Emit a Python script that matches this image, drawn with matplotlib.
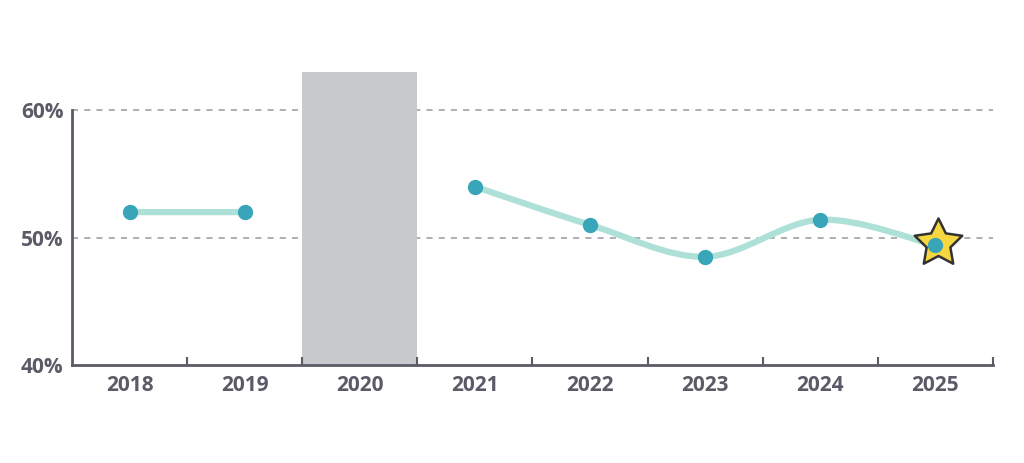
import numpy as np
import matplotlib.pyplot as plt
from matplotlib.path import Path
from matplotlib.patches import PathPatch

years = ["2018", "2019", "2020", "2021", "2022", "2023", "2024", "2025"]
# 2020 is missing (grey band)
seg1_idx = [0, 1]
seg1_val = [52.0, 52.0]
seg2_idx = [3, 4, 5, 6, 7]
seg2_val = [54.0, 51.0, 48.5, 51.4, 49.4]
gap_idx = 2
yticks = [40, 50, 60]

axis_col = "#5a5b66"
line_col = "#ade0d6"
dot_col = "#38a6b8"
star_col = "#f6d73f"

plt.rcParams['font.family'] = ['Open Sans', 'DejaVu Sans']

fig = plt.figure(figsize=(10.24, 4.63), dpi=100)
ax = fig.add_axes([0.0703, 0.2117, 0.8994, 0.6328])
ax.set_xlim(-0.5, 7.5)
ax.set_ylim(40, 63)


def smooth_path(xs, ys, t=0.5):
    # catmull-rom style bezier through the points
    xs = np.asarray(xs, float)
    ys = np.asarray(ys, float)
    verts = [(xs[0], ys[0])]
    codes = [Path.MOVETO]
    n = len(xs)
    for i in range(n - 1):
        p0 = np.array([xs[max(i - 1, 0)], ys[max(i - 1, 0)]])
        p1 = np.array([xs[i], ys[i]])
        p2 = np.array([xs[i + 1], ys[i + 1]])
        p3 = np.array([xs[min(i + 2, n - 1)], ys[min(i + 2, n - 1)]])
        c1 = p1 + (p2 - p0) * t / 3
        c2 = p2 - (p3 - p1) * t / 3
        verts += [tuple(c1), tuple(c2), tuple(p2)]
        codes += [Path.CURVE4] * 3
    return Path(verts, codes)


# fatter star marker
ang = np.pi / 2 + np.arange(10) * np.pi / 5
rad = np.where(np.arange(10) % 2 == 0, 1.0, 0.5)
star_verts = np.column_stack([rad * np.cos(ang), rad * np.sin(ang)])
star = Path(np.vstack([star_verts, star_verts[:1]]),
            [Path.MOVETO] + [Path.LINETO] * 9 + [Path.CLOSEPOLY])

# grey band for 2020
ax.axvspan(gap_idx - 0.5, gap_idx + 0.5, color="#c8c9cd", zorder=1, lw=0)

# grid
for y in [50, 60]:
    ax.axhline(y, color="#9a9a9f", lw=1.1, ls=(0, (4, 4)), zorder=0.5)

for xs, ys in [(seg1_idx, seg1_val), (seg2_idx, seg2_val)]:
    ax.add_patch(PathPatch(smooth_path(xs, ys), fill=False, ec=line_col,
                           lw=4.5, capstyle='round', zorder=3))

# star behind last point
ax.plot(seg2_idx[-1] + 0.02, seg2_val[-1] + 0.2, marker=star, ms=36,
        mfc=star_col, mec="#333333", mew=1.8, zorder=4)

ax.plot(seg1_idx, seg1_val, 'o', color=dot_col, ms=10, zorder=5)
ax.plot(seg2_idx, seg2_val, 'o', color=dot_col, ms=10, zorder=5)

# axes styling
for s in ['top', 'right']:
    ax.spines[s].set_visible(False)
ax.spines['left'].set_bounds(40, 60)
ax.spines['bottom'].set_bounds(-0.5, 7.5)
for s in ['left', 'bottom']:
    ax.spines[s].set_color(axis_col)
    ax.spines[s].set_linewidth(2)

ax.set_xticks(range(len(years)))
ax.set_xticklabels(years)
ax.set_xticks(np.arange(0.5, 8, 1), minor=True)
ax.tick_params(axis='x', which='major', length=0, pad=7)
ax.tick_params(axis='x', which='minor', direction='in', length=6,
               width=1.5, color=axis_col)
ax.set_yticks(yticks)
ax.set_yticklabels([f"{v}%" for v in yticks])
ax.tick_params(axis='y', length=0, pad=6)
for lab in ax.get_xticklabels() + ax.get_yticklabels():
    lab.set_fontsize(15)
    lab.set_fontweight('bold')
    lab.set_color(axis_col)

fig.savefig("out.png", dpi=100)
